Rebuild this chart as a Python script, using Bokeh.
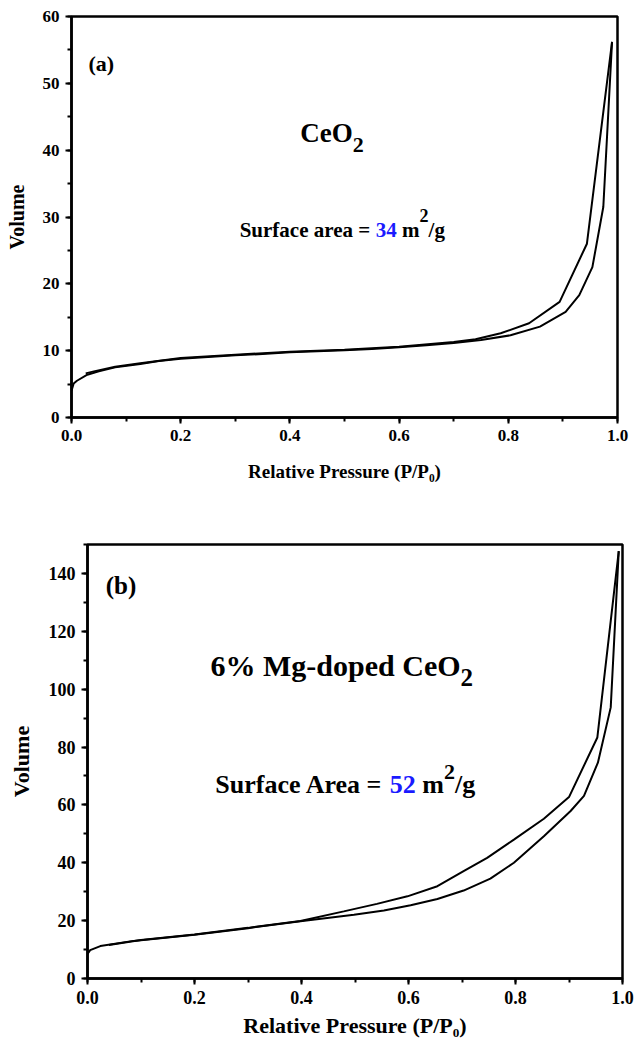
from bokeh.plotting import figure
from bokeh.layouts import column
from bokeh.models import Label, Range1d, SingleIntervalTicker, NumeralTickFormatter
from bokeh.embed import file_html
from bokeh.resources import INLINE

# ---------------- data ----------------
# Panel (a): CeO2
a_ads_x = [0.0, 0.004, 0.01, 0.029, 0.05, 0.08, 0.126, 0.16, 0.2, 0.25, 0.3, 0.35, 0.4, 0.45, 0.5,
           0.55, 0.6, 0.65, 0.7, 0.75, 0.804, 0.858, 0.905, 0.930, 0.954, 0.974, 0.990]
a_ads_y = [4.0, 5.1, 5.5, 6.4, 6.9, 7.5, 8.0, 8.45, 8.8, 9.05, 9.3, 9.5, 9.75, 9.9, 10.05,
           10.25, 10.5, 10.8, 11.15, 11.6, 12.3, 13.6, 15.8, 18.3, 22.5, 31.5, 56.2]
a_des_x = [0.990, 0.944, 0.894, 0.838, 0.786, 0.74, 0.7, 0.6, 0.5, 0.4, 0.3, 0.2, 0.126, 0.08, 0.041, 0.026]
a_des_y = [56.2, 26.0, 17.3, 14.1, 12.6, 11.7, 11.3, 10.6, 10.15, 9.85, 9.4, 8.9, 8.1, 7.6, 6.9, 6.6]

# Panel (b): 6% Mg-doped CeO2
b_ads_x = [0.0, 0.005, 0.024, 0.086, 0.2, 0.3, 0.398, 0.498, 0.554, 0.604, 0.654, 0.703, 0.753,
           0.797, 0.853, 0.903, 0.928, 0.954, 0.978, 0.993]
b_ads_y = [8.5, 9.8, 11.2, 13.0, 15.1, 17.4, 19.8, 22.0, 23.5, 25.3, 27.5, 30.4, 34.5,
           40.0, 49.2, 57.9, 63.1, 74.6, 93.7, 147.7]
b_des_x = [0.993, 0.953, 0.900, 0.853, 0.797, 0.747, 0.703, 0.654, 0.598, 0.541, 0.479, 0.398,
           0.3, 0.2, 0.1, 0.04]
b_des_y = [147.7, 83.3, 62.7, 55.2, 48.0, 41.7, 37.1, 31.9, 28.4, 25.8, 23.2, 19.9,
           17.5, 15.2, 13.3, 11.6]

x_label = "Relative Pressure (P/P\u2080)"
y_label = "Volume"

FONT = "Liberation Serif"

# Times-Bold advance widths (per 1000 em) for composing rich text
W = {' ': 250, 'S': 556, 'u': 556, 'r': 444, 'f': 333, 'a': 500, 'c': 444, 'e': 444, '=': 570,
     'A': 722, 'C': 722, 'O': 778, 'm': 833, '/': 278, 'g': 500, 'M': 944, '%': 1000, '-': 333,
     'd': 556, 'o': 500, 'p': 556, '(': 333, ')': 333, 'b': 556}


def tw(s, size):
    return sum(W.get(ch, 500) for ch in s) * size / 1000.0


def rich(p, x, y, segs):
    off = 0.0
    for text, size, color, dy in segs:
        lead = len(text) - len(text.lstrip(" "))
        off += tw(" " * lead, size)
        body = text.strip(" ")
        p.add_layout(Label(x=x, y=y, x_offset=off, y_offset=dy, text=body,
                           text_font=FONT, text_font_style="bold", text_font_size=f"{size}px",
                           text_color=color, text_align="left", text_baseline="alphabetic"))
        off += tw(text.lstrip(" "), size)


def make(height, yr, yint, borders, tick_fs, xl_fs, yl_fs, xl_stand, yl_stand):
    p = figure(width=636, height=height, x_range=Range1d(0, 1), y_range=Range1d(*yr),
               output_backend="svg", toolbar_location=None,
               min_border_left=borders[0], min_border_right=borders[1],
               min_border_top=borders[2], min_border_bottom=borders[3])
    p.frame_align = False
    p.grid.visible = False
    p.background_fill_color = "white"
    p.border_fill_color = "white"
    p.outline_line_color = "black"
    p.outline_line_width = 2.5
    p.xaxis.ticker = SingleIntervalTicker(interval=0.2, num_minor_ticks=2)
    p.yaxis.ticker = SingleIntervalTicker(interval=yint, num_minor_ticks=2)
    p.xaxis.formatter = NumeralTickFormatter(format="0.0")
    for ax in (p.xaxis[0], p.yaxis[0]):
        ax.axis_line_width = 2.5
        ax.axis_line_color = "black"
        ax.major_tick_line_width = 2
        ax.minor_tick_line_width = 2
        ax.major_tick_out = 6
        ax.major_tick_in = 0
        ax.minor_tick_out = 4
        ax.minor_tick_in = 0
        ax.major_label_text_font = FONT
        ax.major_label_text_font_style = "bold"
        ax.major_label_text_font_size = f"{tick_fs}px"
        ax.major_label_text_color = "black"
        ax.major_label_standoff = 6
        ax.axis_label_text_font = FONT
        ax.axis_label_text_font_style = "bold"
        ax.axis_label_text_color = "black"
    p.xaxis.axis_label = x_label
    p.yaxis.axis_label = y_label
    p.xaxis.axis_label_text_font_size = f"{xl_fs}px"
    p.yaxis.axis_label_text_font_size = f"{yl_fs}px"
    p.xaxis.axis_label_standoff = xl_stand
    p.yaxis.axis_label_standoff = yl_stand
    return p


pa = make(505, (0, 60), 10, (71, 19, 16, 88), 17, 19, 20, 17, 12)
pa.line(a_ads_x, a_ads_y, line_color="black", line_width=2)
pa.line(a_des_x, a_des_y, line_color="black", line_width=2)
rich(pa, 0.031, 53.0, [("(a)", 22, "black", 0)])
rich(pa, 0.419, 42.5, [("CeO", 27, "black", 0), ("2", 22, "black", -12)])
rich(pa, 0.308, 28.1, [("Surface area = ", 21, "black", 0), ("34", 21, "#1a1aff", 0),
                       (" m", 21, "black", 0), ("2", 18, "black", 14), ("/g", 21, "black", 0)])

pb = make(535, (0, 150), 20, (87, 14, 39, 60), 18, 22, 22, 6, 12)
pb.line(b_ads_x, b_ads_y, line_color="black", line_width=2)
pb.line(b_des_x, b_des_y, line_color="black", line_width=2)
rich(pb, 0.034, 136.0, [("(b)", 25, "black", 0)])
rich(pb, 0.230, 108.1, [("6% Mg-doped CeO", 30, "black", 0), ("2", 25, "black", -12)])
rich(pb, 0.239, 67.2, [("Surface Area = ", 26, "black", 0), ("52", 26, "#1a1aff", 0),
                       (" m", 26, "black", 0), ("2", 22, "black", 12), ("/g", 26, "black", 0)])

layout = column(pa, pb, spacing=0)
open("out.html", "w").write(file_html(layout, INLINE))
